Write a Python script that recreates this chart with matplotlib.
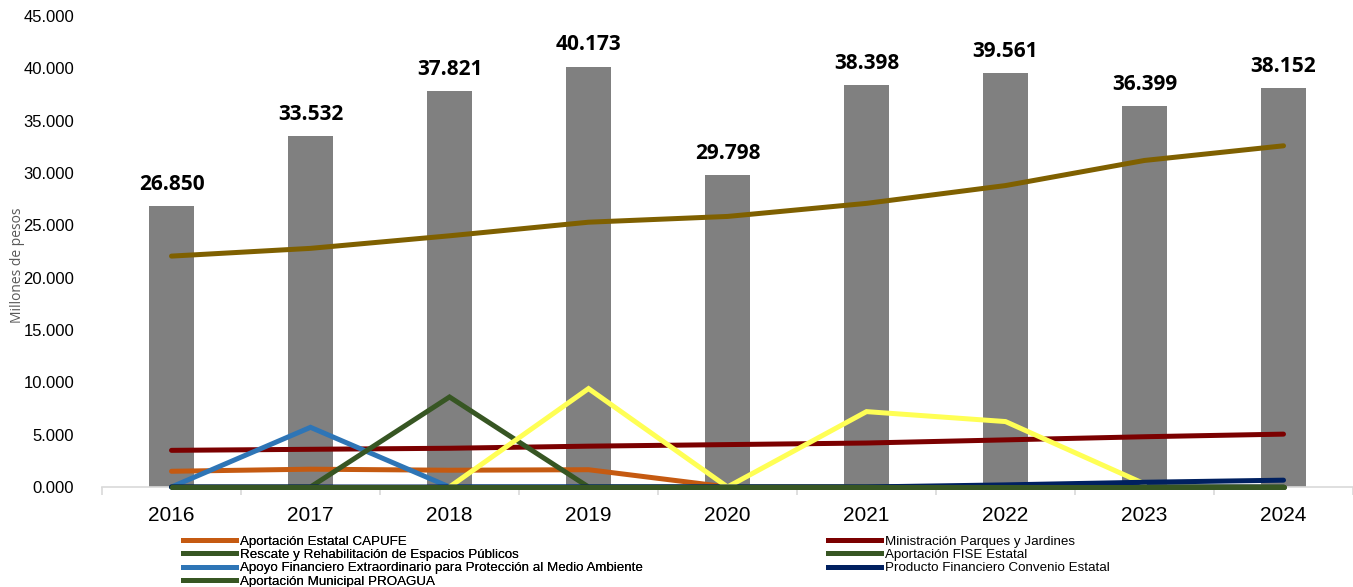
import numpy as np
import matplotlib.pyplot as plt
from matplotlib.lines import Line2D

years = ['2016', '2017', '2018', '2019', '2020', '2021', '2022', '2023', '2024']
totals = [26.850, 33.532, 37.821, 40.173, 29.798, 38.398, 39.561, 36.399, 38.152]

# series (millones de pesos, miles)
gold_series = [22.06, 22.80, 24.00, 25.30, 25.85, 27.10, 28.80, 31.20, 32.60]
yellow_series = [np.nan, np.nan, 0.0, 9.40, 0.0, 7.20, 6.25, 0.30, np.nan]
capufe = [1.50, 1.70, 1.60, 1.65, 0.0, 0.0, 0.0, 0.0, 0.0]
ministracion = [3.50, 3.60, 3.70, 3.90, 4.05, 4.20, 4.50, 4.80, 5.05]
rescate = [0.0, 0.0, 8.60, 0.0, 0.0, 0.0, 0.0, 0.0, 0.0]
apoyo = [0.0, 5.70, 0.0, 0.0, 0.0, 0.0, 0.0, 0.0, 0.0]
producto = [0.0, 0.0, 0.0, 0.0, 0.0, 0.0, 0.20, 0.45, 0.65]
fise = [0.0, 0.0, 0.0, 0.0, 0.0, 0.0, 0.0, 0.0, 0.0]
proagua = [0.0, 0.0, 0.0, 0.0, 0.0, 0.0, 0.0, 0.0, 0.0]

fig = plt.figure(figsize=(13.53, 5.87), dpi=100)
ax = fig.add_axes([0.0754, 0.1704, 0.9246, 0.8023])

x = np.arange(len(years))
ax.bar(x, totals, width=0.32, color='#808080', zorder=1)
for xi, v in zip(x, totals):
    ax.annotate('{:.3f}'.format(v), (xi, v), xytext=(0, 8), textcoords='offset points',
                ha='center', va='bottom', fontsize=15, fontweight='bold',
                family='Open Sans', color='#000000')

kw = dict(lw=3.6, solid_capstyle='round', solid_joinstyle='miter', zorder=3, clip_on=False)
ax.plot(x, gold_series, color='#7F6000', **kw)
ax.plot(x, ministracion, color='#7B0000', **kw)
ax.plot(x, capufe, color='#C55A11', **kw)
ax.plot(x, apoyo, color='#2E75B6', **kw)
ax.plot(x, rescate, color='#375623', **kw)
ax.plot(x, yellow_series, color='#FFFF55', **kw)
ax.plot(x, producto, color='#002060', **kw)
ax.plot(x, fise, color='#375623', **kw)
ax.plot(x, proagua, color='#375623', **kw)

ax.set_xlim(-0.5, len(years) - 0.5)
ax.set_ylim(0, 45)
ax.set_yticks(np.arange(0, 46, 5))
ax.set_yticklabels(['{:.3f}'.format(v) for v in np.arange(0, 46, 5)],
                   fontsize=12, family='Liberation Sans')
ax.set_xticks(x)
ax.set_xticklabels(years, fontsize=15, family='Liberation Sans')
ax.set_xticks(np.arange(-0.5, len(years), 1.0), minor=True)
ax.tick_params(axis='x', which='major', length=0, pad=14)
ax.tick_params(axis='x', which='minor', length=6, color='#D9D9D9', width=1.2)
ax.tick_params(axis='y', length=0, pad=20)
for s in ['top', 'right', 'left']:
    ax.spines[s].set_visible(False)
ax.spines['bottom'].set_color('#D9D9D9')
ax.spines['bottom'].set_linewidth(1.2)

fig.text(0.0126, 1 - 265 / 587, 'Millones de pesos', rotation=90, ha='center', va='center',
         fontsize=10, color='#595959', family='Open Sans')

def handle(c):
    return Line2D([], [], color=c, lw=3.6)

leg_kw = dict(frameon=False, handlelength=4.0, handletextpad=0.3,
              labelspacing=0.07, borderaxespad=0, borderpad=0,
              prop={'family': 'Liberation Sans', 'size': 9.6})
leg1 = fig.legend([handle('#C55A11'), handle('#375623'), handle('#2E75B6'), handle('#375623')],
                  ['Aportación Estatal CAPUFE', 'Rescate y Rehabilitación de Espacios Públicos',
                   'Apoyo Financiero Extraordinario para Protección al Medio Ambiente',
                   'Aportación Municipal PROAGUA'],
                  loc='upper left', bbox_to_anchor=(183 / 1353, 1 - 535.5 / 587), **leg_kw)
fig.add_artist(leg1)
fig.legend([handle('#7B0000'), handle('#375623'), handle('#002060')],
           ['Ministración Parques y Jardines', 'Aportación FISE Estatal',
            'Producto Financiero Convenio Estatal'],
           loc='upper left', bbox_to_anchor=(828 / 1353, 1 - 535.5 / 587), **leg_kw)

fig.savefig('out.png', dpi=100)
